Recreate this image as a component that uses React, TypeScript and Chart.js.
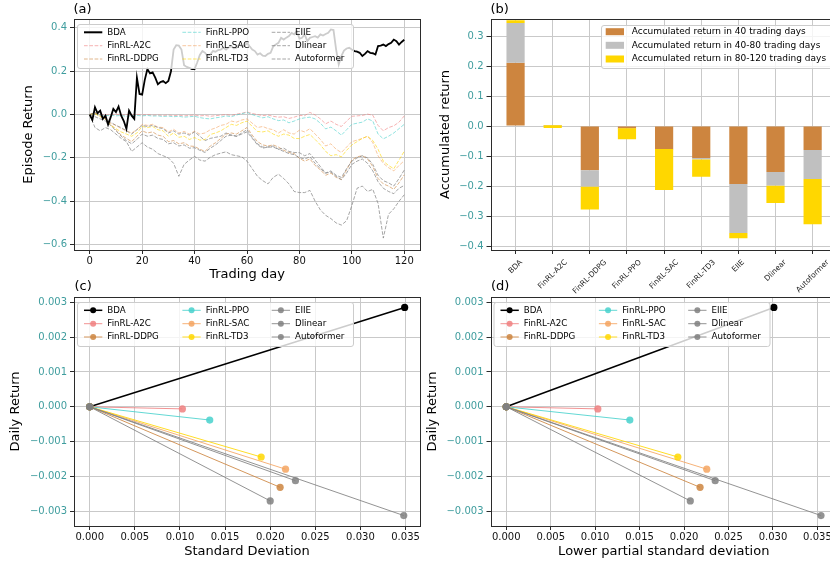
import React, { useEffect, useRef } from "react";
import { Chart, registerables } from "chart.js";
Chart.register(...registerables);

const FONT = "'DejaVu Sans', 'Liberation Sans', sans-serif";
Chart.defaults.font.family = FONT;
const TEAL = "#3f9d9e";
const GRID = "#c9c9c9";
const SPINE = "#2b2b2b";

// ---------- shared ----------
const methods = ["BDA", "FinRL-A2C", "FinRL-DDPG", "FinRL-PPO", "FinRL-SAC", "FinRL-TD3", "EIIE", "Dlinear", "Autoformer"];
const methodColors = ["#000000", "#F08080", "#CD853F", "#48D1CC", "#F4A460", "#FFD700", "#808080", "#808080", "#808080"];

// ---------- panel (a): episode return ----------
const tradingDays = Array.from({ length: 121 }, (_, i) => i);
const sampledDays = Array.from({ length: 61 }, (_, i) => i * 2);
const bdaEpisode = [0, -0.025, 0.034, 0.006, 0.018, -0.02, -0.005, -0.046, -0.012, 0.026,
  0.011, 0.037, -0.005, -0.03, -0.066, 0.018, -0.005, -0.02, 0.17, 0.095,
  0.092, 0.16, 0.21, 0.19, 0.195, 0.17, 0.14, 0.15, 0.155, 0.145,
  0.155, 0.2, 0.3, 0.32, 0.318, 0.3, 0.228, 0.22, 0.216, 0.21,
  0.21, 0.24, 0.275, 0.293, 0.285, 0.27, 0.277, 0.293, 0.29, 0.298,
  0.3, 0.308, 0.3, 0.31, 0.316, 0.305, 0.308, 0.323, 0.316, 0.316,
  0.331, 0.315, 0.3, 0.293, 0.277, 0.283, 0.272, 0.27, 0.28, 0.285,
  0.315, 0.323, 0.331, 0.354, 0.346, 0.355, 0.362, 0.377, 0.37, 0.385,
  0.35, 0.354, 0.37, 0.339, 0.354, 0.358, 0.362, 0.355, 0.37, 0.365,
  0.372, 0.377, 0.393, 0.39, 0.3, 0.231, 0.27, 0.295, 0.305, 0.308,
  0.3, 0.293, 0.29, 0.285, 0.27, 0.28, 0.293, 0.285, 0.283, 0.277,
  0.316, 0.318, 0.323, 0.316, 0.325, 0.331, 0.346, 0.339, 0.323, 0.335,
  0.345];
const a2cEpisode = [0, 0.005, 0.003, -0.002, 0.0, 0.002, -0.003, 0.0, -0.002, 0.001,
  -0.002, 0.0, -0.003, -0.002, -0.004, -0.002, -0.005, -0.003, -0.006, -0.004,
  -0.002, -0.006, -0.004, -0.008, -0.005, -0.003, 0.0, -0.004, 0.002, 0.006,
  0.012, 0.005, 0.0, -0.005, -0.002, -0.008, -0.012, -0.01, -0.018, -0.012,
  -0.004, -0.005, 0.01, -0.002, -0.02, -0.043, -0.03, -0.045, -0.055, -0.03,
  -0.008, -0.006, -0.004, 0.002, -0.003, -0.05, -0.075, -0.06, -0.052, -0.035,
  -0.006];
const ddpgEpisode = [0, 0.008, -0.005, -0.02, -0.045, -0.07, -0.095, -0.11, -0.125, -0.1,
  -0.075, -0.085, -0.08, -0.095, -0.1, -0.125, -0.12, -0.135, -0.13, -0.145,
  -0.147, -0.16, -0.17, -0.145, -0.13, -0.11, -0.09, -0.085, -0.09, -0.075,
  -0.06, -0.095, -0.125, -0.14, -0.145, -0.14, -0.15, -0.165, -0.175, -0.18,
  -0.202, -0.215, -0.205, -0.235, -0.255, -0.28, -0.27, -0.29, -0.3, -0.255,
  -0.21, -0.195, -0.19, -0.205, -0.24, -0.295, -0.32, -0.33, -0.345, -0.315,
  -0.278];
const ppoEpisode = [0, 0.002, -0.003, -0.005, -0.003, -0.006, -0.004, -0.008, -0.005, -0.004,
  -0.006, -0.004, -0.007, -0.006, -0.009, -0.007, -0.01, -0.008, -0.012, -0.01,
  -0.008, -0.014, -0.018, -0.02, -0.015, -0.012, -0.006, -0.01, -0.002, 0.004,
  0.01, 0.0, -0.008, -0.015, -0.01, -0.02, -0.028, -0.025, -0.038, -0.03,
  -0.02, -0.015, -0.012, -0.02, -0.04, -0.066, -0.058, -0.075, -0.095, -0.07,
  -0.045, -0.04, -0.035, -0.02, -0.03, -0.09, -0.112, -0.1, -0.085, -0.065,
  -0.045];
const sacEpisode = [0, 0.004, -0.008, -0.015, -0.04, -0.05, -0.065, -0.075, -0.085, -0.07,
  -0.045, -0.05, -0.045, -0.058, -0.06, -0.08, -0.068, -0.085, -0.078, -0.09,
  -0.077, -0.09, -0.085, -0.07, -0.062, -0.05, -0.045, -0.03, -0.035, -0.025,
  -0.02, -0.04, -0.06, -0.055, -0.065, -0.07, -0.085, -0.07, -0.085, -0.09,
  -0.072, -0.08, -0.065, -0.09, -0.115, -0.145, -0.135, -0.16, -0.175, -0.15,
  -0.125, -0.118, -0.11, -0.1, -0.13, -0.19, -0.225, -0.245, -0.26, -0.235,
  -0.213];
const td3Episode = [0, 0.005, -0.01, -0.02, -0.05, -0.065, -0.08, -0.09, -0.1, -0.085,
  -0.055, -0.06, -0.055, -0.07, -0.075, -0.1, -0.085, -0.105, -0.1, -0.115,
  -0.106, -0.118, -0.115, -0.092, -0.085, -0.075, -0.06, -0.045, -0.05, -0.038,
  -0.03, -0.055, -0.078, -0.08, -0.075, -0.09, -0.1, -0.09, -0.095, -0.11,
  -0.111, -0.1, -0.092, -0.115, -0.14, -0.17, -0.19, -0.185, -0.195, -0.165,
  -0.14, -0.125, -0.11, -0.1, -0.12, -0.16, -0.215, -0.235, -0.25, -0.21,
  -0.169];
const eiieEpisode = [0, -0.06, -0.075, -0.06, -0.07, -0.09, -0.11, -0.125, -0.17, -0.15,
  -0.13, -0.15, -0.16, -0.18, -0.19, -0.2, -0.225, -0.285, -0.23, -0.21,
  -0.193, -0.21, -0.215, -0.197, -0.185, -0.178, -0.172, -0.185, -0.19, -0.195,
  -0.215, -0.25, -0.285, -0.305, -0.32, -0.29, -0.275, -0.295, -0.32, -0.355,
  -0.36, -0.36, -0.35, -0.4, -0.44, -0.465, -0.48, -0.5, -0.51, -0.49,
  -0.42, -0.34, -0.33, -0.355, -0.345, -0.41, -0.57, -0.46, -0.435, -0.4,
  -0.37];
const dlinearEpisode = [0, -0.01, -0.02, -0.03, -0.05, -0.075, -0.1, -0.12, -0.135, -0.115,
  -0.09, -0.1, -0.095, -0.11, -0.115, -0.135, -0.13, -0.145, -0.14, -0.155,
  -0.153, -0.165, -0.175, -0.155, -0.14, -0.12, -0.1, -0.095, -0.1, -0.085,
  -0.07, -0.105, -0.135, -0.15, -0.15, -0.145, -0.16, -0.17, -0.18, -0.185,
  -0.199, -0.205, -0.195, -0.225, -0.25, -0.27, -0.26, -0.28, -0.29, -0.25,
  -0.215, -0.2, -0.19, -0.2, -0.23, -0.28, -0.305, -0.315, -0.33, -0.295,
  -0.256];
const autoformerEpisode = [0, 0.01, 0.0, -0.015, -0.035, -0.05, -0.06, -0.075, -0.09, -0.07,
  -0.05, -0.055, -0.05, -0.06, -0.065, -0.085, -0.075, -0.09, -0.085, -0.095,
  -0.08, -0.1, -0.12, -0.11, -0.105, -0.1, -0.085, -0.095, -0.1, -0.09,
  -0.08, -0.11, -0.14, -0.155, -0.15, -0.15, -0.16, -0.155, -0.17, -0.175,
  -0.176, -0.19, -0.18, -0.21, -0.24, -0.27, -0.265, -0.285, -0.3, -0.27,
  -0.23, -0.215, -0.205, -0.225, -0.26, -0.31, -0.34, -0.355, -0.365, -0.34,
  -0.327];
const episodeSeries = [bdaEpisode, a2cEpisode, ddpgEpisode, ppoEpisode, sacEpisode, td3Episode, eiieEpisode, dlinearEpisode, autoformerEpisode];
const episodeXTicks = [0, 20, 40, 60, 80, 100, 120];
const episodeYTicks = [-0.6, -0.4, -0.2, 0, 0.2, 0.4];

// ---------- panel (b): accumulated return ----------
const acc40 = [0.211, 0.001, -0.147, -0.008, -0.077, -0.106, -0.193, -0.153, -0.08];
const acc80 = [0.344, 0.003, -0.202, -0.007, -0.076, -0.111, -0.356, -0.199, -0.176];
const acc120 = [0.353, -0.006, -0.278, -0.044, -0.213, -0.169, -0.374, -0.256, -0.327];
const accLabels = ["Accumulated return in 40 trading days", "Accumulated return in 40-80 trading days", "Accumulated return in 80-120 trading days"];
const accColors = ["#CD853F", "#C0C0C0", "#FFD700"];
const accYTicks = [-0.4, -0.3, -0.2, -0.1, 0, 0.1, 0.2, 0.3];

// ---------- panels (c), (d): risk vs return ----------
const stdDeviation = [0.0349, 0.01027, 0.0211, 0.0133, 0.0217, 0.019, 0.0348, 0.0228, 0.02];
const lowerPartialStd = [0.0301, 0.0103, 0.0218, 0.0139, 0.02255, 0.0193, 0.0354, 0.0235, 0.0207];
const dailyReturn = [0.00285, -0.00006, -0.00231, -0.00038, -0.00179, -0.00144, -0.00312, -0.00212, -0.0027];
const riskYTicks = [-0.003, -0.002, -0.001, 0, 0.001, 0.002, 0.003];
const riskXTicks = [0, 0.005, 0.01, 0.015, 0.02, 0.025, 0.03, 0.035];

// ---------- helpers ----------
function rgba(hex: string, a: number) {
  const n = parseInt(hex.slice(1), 16);
  return `rgba(${(n >> 16) & 255},${(n >> 8) & 255},${n & 255},${a})`;
}
function fmt(v: number, d: number) {
  const s = Math.abs(v) < 1e-12 ? (0).toFixed(d) : v.toFixed(d);
  return s.replace("-", "\u2212");
}

function axis(o: any) {
  return {
    type: "linear",
    min: o.min,
    max: o.max,
    offset: false,
    afterBuildTicks: (s: any) => { s.ticks = o.ticks.map((v: number) => ({ value: v })); },
    afterFit: (s: any) => { if (o.isX) s.height = o.size; else s.width = o.size; },
    ticks: {
      display: o.showLabels !== false,
      color: o.color,
      font: { family: FONT, size: 10 },
      padding: o.isX ? 1 : 3,
      autoSkip: false,
      maxRotation: 0,
      minRotation: 0,
      callback: (v: number) => fmt(v, o.decimals),
    },
    grid: { color: GRID, lineWidth: 1, drawTicks: true, tickLength: 4, tickColor: SPINE, tickWidth: 1, offset: false },
    border: { display: false },
    title: o.title
      ? { display: true, text: o.title, color: "#000", font: { family: FONT, size: 13 }, padding: o.titlePad }
      : { display: false },
  };
}

function drawFrame(chart: any) {
  const ctx = chart.ctx;
  const { left, top, right, bottom } = chart.chartArea;
  ctx.save();
  ctx.strokeStyle = SPINE;
  ctx.lineWidth = 1;
  const l = Math.round(left) + 0.5, t = Math.round(top) + 0.5;
  ctx.strokeRect(l, t, Math.round(right) - Math.round(left), Math.round(bottom) - Math.round(top));
  ctx.restore();
}

function drawPanelLabel(chart: any, text: string, x: number, y: number) {
  const ctx = chart.ctx;
  ctx.save();
  ctx.font = `13px ${FONT}`;
  ctx.fillStyle = "#000";
  ctx.textBaseline = "middle";
  ctx.textAlign = "left";
  ctx.fillText(text, x, y);
  ctx.restore();
}

function drawLegend(chart: any, L: any) {
  const ctx = chart.ctx;
  ctx.save();
  ctx.beginPath();
  if ((ctx as any).roundRect) (ctx as any).roundRect(L.x + 0.5, L.y + 0.5, L.w, L.h, 2.5);
  else ctx.rect(L.x + 0.5, L.y + 0.5, L.w, L.h);
  ctx.fillStyle = "rgba(255,255,255,0.8)";
  ctx.fill();
  ctx.strokeStyle = "#cccccc";
  ctx.lineWidth = 1;
  ctx.stroke();
  ctx.font = `${L.fontSize}px ${FONT}`;
  ctx.textBaseline = "middle";
  ctx.textAlign = "left";
  L.items.forEach((it: any, i: number) => {
    const col = Math.floor(i / L.rows), row = i % L.rows;
    const hx = L.handleX[col], cy = L.rowY[row];
    if (it.kind === "patch") {
      ctx.fillStyle = it.color;
      ctx.fillRect(hx, cy - L.patchH / 2, L.handleLen, L.patchH);
    } else {
      ctx.setLineDash(it.dash || []);
      ctx.strokeStyle = it.color;
      ctx.lineWidth = it.width;
      ctx.beginPath();
      ctx.moveTo(hx, cy);
      ctx.lineTo(hx + L.handleLen, cy);
      ctx.stroke();
      ctx.setLineDash([]);
      if (it.kind === "marker") {
        ctx.fillStyle = it.color;
        ctx.beginPath();
        ctx.arc(hx + L.handleLen / 2, cy, L.markerR, 0, Math.PI * 2);
        ctx.fill();
      }
    }
    ctx.fillStyle = "#000";
    ctx.fillText(it.label, L.textX[col], cy);
  });
  ctx.restore();
}

function threeColLegend(ca: any, items: any[]) {
  const x = ca.left + 3, y = ca.top + 5;
  return {
    x, y, w: 276, h: 44, rows: 3, fontSize: 8.7, handleLen: 18.3, patchH: 7, markerR: 3,
    rowY: [y + 8.3, y + 21.7, y + 35],
    handleX: [ca.left + 10, ca.left + 108.4, ca.left + 197.7],
    textX: [ca.left + 33.3, ca.left + 131.7, ca.left + 221],
    items,
  };
}

const baseOptions = {
  responsive: false,
  maintainAspectRatio: false,
  animation: false,
  devicePixelRatio: 1,
  events: [],
  plugins: { legend: { display: false }, tooltip: { enabled: false }, title: { display: false } },
};

function episodeStyle(i: number) {
  if (i === 0) return { color: "#000000", width: 1.8, dash: [] as number[] };
  const a = methodColors[i] === "#808080" ? 0.7 : 0.6;
  return { color: rgba(methodColors[i], a), width: 1, dash: [3.7, 1.6] };
}

// ---------- chart configs ----------
function makeEpisode() {
  return {
    type: "line",
    data: {
      datasets: methods.map((name, i) => {
        const st = episodeStyle(i);
        const days = i === 0 ? tradingDays : sampledDays;
        return {
          label: name,
          data: days.map((d, k) => ({ x: d, y: episodeSeries[i][k] })),
          borderColor: st.color,
          borderWidth: st.width,
          borderDash: st.dash,
          pointRadius: 0,
          tension: 0,
          fill: false,
          order: i === 0 ? -100 : -i,
        };
      }),
    },
    options: {
      ...baseOptions,
      layout: { padding: { left: 0, right: 5, top: 19, bottom: 0 } },
      scales: {
        x: axis({ isX: true, min: -6, max: 126, ticks: episodeXTicks, decimals: 0, size: 35, title: "Trading day", titlePad: { top: 0, bottom: 2.2 }, color: "#111" }),
        y: axis({ isX: false, min: -0.625, max: 0.441, ticks: episodeYTicks, decimals: 1, size: 74, title: "Episode Return", titlePad: { top: 21.2, bottom: 0 }, color: TEAL }),
      },
    },
    plugins: [{
      id: "decorA",
      afterDraw: (chart: any) => {
        drawFrame(chart);
        const items = methods.map((name, i) => {
          const st = episodeStyle(i);
          return { label: name, kind: "line", color: st.color, width: i === 0 ? 2 : 1, dash: st.dash };
        });
        drawLegend(chart, threeColLegend(chart.chartArea, items));
        drawPanelLabel(chart, "(a)", 73.5, 10);
      },
    }],
  };
}

function makeAccumulated() {
  const ranges = [
    methods.map((_, i) => ({ x: i, y: [0, acc40[i]] })),
    methods.map((_, i) => ({ x: i, y: [acc40[i], acc80[i]] })),
    methods.map((_, i) => ({ x: i, y: [acc80[i], acc120[i]] })),
  ];
  return {
    type: "bar",
    data: {
      datasets: ranges.map((data, k) => ({
        label: accLabels[k],
        data,
        backgroundColor: accColors[k],
        borderWidth: 0,
        grouped: false,
        barPercentage: 0.49,
        categoryPercentage: 1,
        order: 2 - k,
      })),
    },
    options: {
      ...baseOptions,
      layout: { padding: { left: 0, right: 12.3, top: 19, bottom: 0 } },
      scales: {
        x: axis({ isX: true, min: -0.675, max: 8.675, ticks: methods.map((_, i) => i), decimals: 0, size: 50, color: "#111", showLabels: false }),
        y: axis({ isX: false, min: -0.413, max: 0.357, ticks: accYTicks, decimals: 1, size: 70.5, title: "Accumulated return", titlePad: { top: 18.2, bottom: 0 }, color: TEAL }),
      },
    },
    plugins: [{
      id: "decorB",
      afterDraw: (chart: any) => {
        drawFrame(chart);
        const ctx = chart.ctx;
        const xs = chart.scales.x;
        const bottom = chart.chartArea.bottom;
        ctx.save();
        ctx.font = `7.5px ${FONT}`;
        ctx.fillStyle = "#222";
        ctx.textAlign = "center";
        ctx.textBaseline = "middle";
        methods.forEach((m, i) => {
          const w = ctx.measureText(m).width;
          const bh = (w + 7.5) * Math.SQRT1_2;
          const px = xs.getPixelForValue(i);
          ctx.save();
          ctx.translate(px, bottom + 8.5 + bh / 2);
          ctx.rotate(-Math.PI / 4);
          ctx.fillText(m, 0, 0);
          ctx.restore();
        });
        ctx.restore();
        drawLegend(chart, {
          x: 181, y: 25, w: 232, h: 43, rows: 3, fontSize: 9, handleLen: 18.3, patchH: 7, markerR: 0,
          rowY: [31.7, 45.3, 59], handleX: [185.7], textX: [211.7],
          items: accLabels.map((l, k) => ({ label: l, kind: "patch", color: accColors[k] })),
        });
        drawPanelLabel(chart, "(b)", 70.5, 10);
      },
    }],
  };
}

function makeRisk(xValues: number[], xMax: number, xMin: number, xTitle: string, label: string, yAxisW: number, yTitlePad: number, rightPad: number) {
  return {
    type: "line",
    data: {
      datasets: methods.map((name, i) => {
        const c = rgba(methodColors[i], i === 0 ? 1 : 0.85);
        return {
          label: name,
          data: [{ x: 0, y: 0 }, { x: xValues[i], y: dailyReturn[i] }],
          borderColor: c,
          backgroundColor: c,
          pointBackgroundColor: c,
          pointBorderColor: c,
          pointBorderWidth: 0,
          pointRadius: 3.6,
          borderWidth: i === 0 ? 1.5 : 1,
          tension: 0,
          fill: false,
          order: -i,
        };
      }),
    },
    options: {
      ...baseOptions,
      layout: { padding: { left: 0, right: rightPad, top: 17, bottom: 0 } },
      scales: {
        x: axis({ isX: true, min: xMin, max: xMax, ticks: riskXTicks, decimals: 3, size: 39, title: xTitle, titlePad: { top: 0, bottom: 5.5 }, color: "#111" }),
        y: axis({ isX: false, min: -0.00342, max: 0.00315, ticks: riskYTicks, decimals: 3, size: yAxisW, title: "Daily Return", titlePad: { top: yTitlePad, bottom: 0 }, color: TEAL }),
      },
    },
    plugins: [{
      id: "decor" + label,
      afterDraw: (chart: any) => {
        drawFrame(chart);
        const items = methods.map((name, i) => ({
          label: name, kind: "marker", color: rgba(methodColors[i], i === 0 ? 1 : 0.85), width: i === 0 ? 1.5 : 1,
        }));
        drawLegend(chart, threeColLegend(chart.chartArea, items));
        drawPanelLabel(chart, label, chart.chartArea.left + 0.5, 6.7);
      },
    }],
  };
}

function ChartBox({ x, y, w, h, make }: { x: number; y: number; w: number; h: number; make: () => any }) {
  const ref = useRef<HTMLCanvasElement | null>(null);
  useEffect(() => {
    if (!ref.current) return;
    const chart = new Chart(ref.current, make());
    return () => chart.destroy();
  }, []);
  return (
    <canvas
      ref={ref}
      width={w}
      height={h}
      style={{ position: "absolute", left: x, top: y, width: w, height: h, display: "block" }}
    />
  );
}

export default function App() {
  return (
    <div style={{ position: "fixed", left: 0, top: 0, width: 830, height: 565, overflow: "hidden", background: "#ffffff" }}>
      <ChartBox x={0} y={0} w={425} h={285} make={makeEpisode} />
      <ChartBox x={420} y={0} w={430} h={300} make={makeAccumulated} />
      <ChartBox x={0} y={280} w={425} h={285}
        make={() => makeRisk(stdDeviation, 0.0366, -0.00174, "Standard Deviation", "(c)", 74, 8.2, 5)} />
      <ChartBox x={420} y={280} w={430} h={285}
        make={() => makeRisk(lowerPartialStd, 0.0372, -0.00177, "Lower partial standard deviation", "(d)", 70.5, 4.7, 13)} />
    </div>
  );
}
